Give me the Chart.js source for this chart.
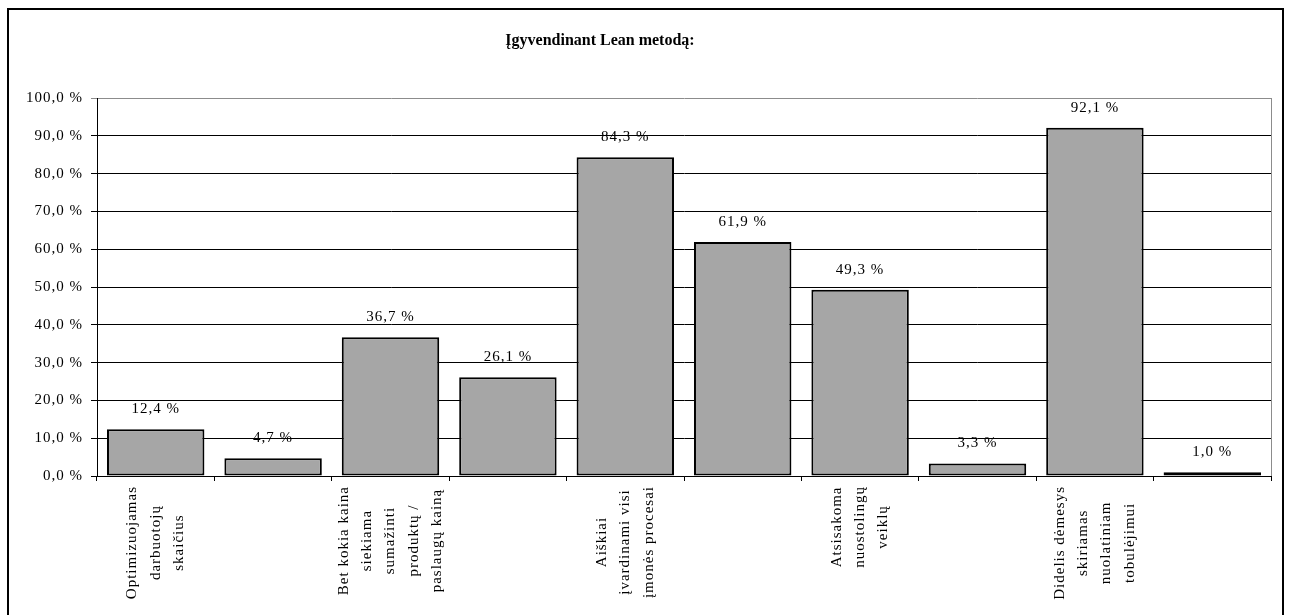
<!DOCTYPE html>
<html>
<head>
<meta charset="utf-8">
<script src="https://cdn.jsdelivr.net/npm/chart.js@4"></script>
<style>
  html, body { margin: 0; padding: 0; background: #fff; }
  canvas { display: block; }
</style>
</head>
<body>
<canvas id="lean-chart" width="1290" height="615"></canvas>
<script>
"use strict";

const title = 'Įgyvendinant Lean metodą:';

const categories = [
    ['Optimizuojamas', 'darbuotojų', 'skaičius'],
    '',
    ['Bet kokia kaina', 'siekiama', 'sumažinti', 'produktų /', 'paslaugų kainą'],
    '',
    ['Aiškiai', 'įvardinami visi', 'įmonės procesai'],
    '',
    ['Atsisakoma', 'nuostolingų', 'veiklų'],
    '',
    ['Didelis dėmesys', 'skiriamas', 'nuolatiniam', 'tobulėjimui'],
    ''
];

const shares = [12.4, 4.7, 36.7, 26.1, 84.3, 61.9, 49.3, 3.3, 92.1, 1.0];

const yTicks = [0, 10, 20, 30, 40, 50, 60, 70, 80, 90, 100];

const serif = "'Liberation Serif', 'Times New Roman', serif";

const pct = v => v.toFixed(1).replace('.', ',') + ' %';

// excel-like spacing of the glyphs
const spacing = {
    id: 'spacing',
    beforeUpdate(chart) { chart.ctx.letterSpacing = '1px'; },
    beforeDraw(chart) { chart.ctx.letterSpacing = '1px'; }
};

const decorations = {
    id: 'decorations',
    afterDraw(chart) {
        const ctx = chart.ctx;
        const area = chart.chartArea;
        const x = chart.scales.x;

        ctx.save();
        // right frame of plot
        ctx.strokeStyle = '#8c8c8c';
        ctx.lineWidth = 1;
        ctx.beginPath();
        ctx.moveTo(Math.round(area.right) + 0.5, area.top);
        ctx.lineTo(Math.round(area.right) + 0.5, area.bottom);
        ctx.stroke();

        // outer border
        ctx.strokeStyle = '#000';
        ctx.lineWidth = 2;
        ctx.strokeRect(8, 9, 1275, 700);

        // title
        ctx.letterSpacing = '0px';
        ctx.fillStyle = '#000';
        ctx.font = 'bold 16px ' + serif;
        ctx.textAlign = 'center';
        ctx.textBaseline = 'alphabetic';
        ctx.fillText(title, 600, 45);

        // value labels
        ctx.letterSpacing = '1px';
        ctx.font = '15px ' + serif;
        ctx.textBaseline = 'middle';
        chart.getDatasetMeta(0).data.forEach((bar, i) => {
            ctx.fillText(pct(shares[i]), bar.x, bar.y - 20);
        });

        // rotated category labels, lines centred inside the block
        const lineH = 23.3;
        categories.forEach((lab, i) => {
            if (!lab) return;
            const lines = Array.isArray(lab) ? lab : [lab];
            const maxW = Math.max(...lines.map(l => ctx.measureText(l).width));
            const cx = x.getPixelForValue(i);
            ctx.save();
            ctx.translate(cx, area.bottom + 10 + maxW / 2);
            ctx.rotate(-Math.PI / 2);
            ctx.textAlign = 'center';
            lines.forEach((l, j) => {
                ctx.fillText(l, 0, (j - (lines.length - 1) / 2) * lineH);
            });
            ctx.restore();
        });
        ctx.restore();
    }
};

const ctx = document.getElementById('lean-chart').getContext('2d');

new Chart(ctx, {
    type: 'bar',
    data: {
        labels: categories,
        datasets: [{
            data: shares,
            backgroundColor: '#a6a6a6',
            borderColor: '#000',
            borderWidth: 2,
            borderSkipped: false,
            barPercentage: 0.83,
            categoryPercentage: 1
        }]
    },
    options: {
        responsive: false,
        devicePixelRatio: 1,
        animation: false,
        layout: {
            padding: { top: 98, right: 19, bottom: 0, left: 0 }
        },
        plugins: {
            legend: { display: false },
            title: { display: false },
            tooltip: { enabled: false }
        },
        scales: {
            x: {
                offset: true,
                ticks: { display: false },
                grid: {
                    offset: true,
                    drawOnChartArea: false,
                    drawTicks: true,
                    tickLength: 5,
                    color: '#000'
                },
                border: { display: true, color: '#000', width: 1 },
                afterFit: s => { s.height = 139; }
            },
            y: {
                min: 0,
                max: 100,
                afterBuildTicks: s => { s.ticks = yTicks.map(v => ({ value: v })); },
                ticks: {
                    callback: v => pct(v),
                    color: '#000',
                    padding: 8,
                    font: { family: serif, size: 15 }
                },
                grid: {
                    color: c => (c.tick && c.tick.value === 100 ? '#8c8c8c' : '#000'),
                    lineWidth: 1,
                    tickLength: 6
                },
                border: { display: true, color: '#000', width: 1 },
                afterFit: s => { s.width = 97; }
            }
        }
    },
    plugins: [spacing, decorations]
});
</script>
</body>
</html>
